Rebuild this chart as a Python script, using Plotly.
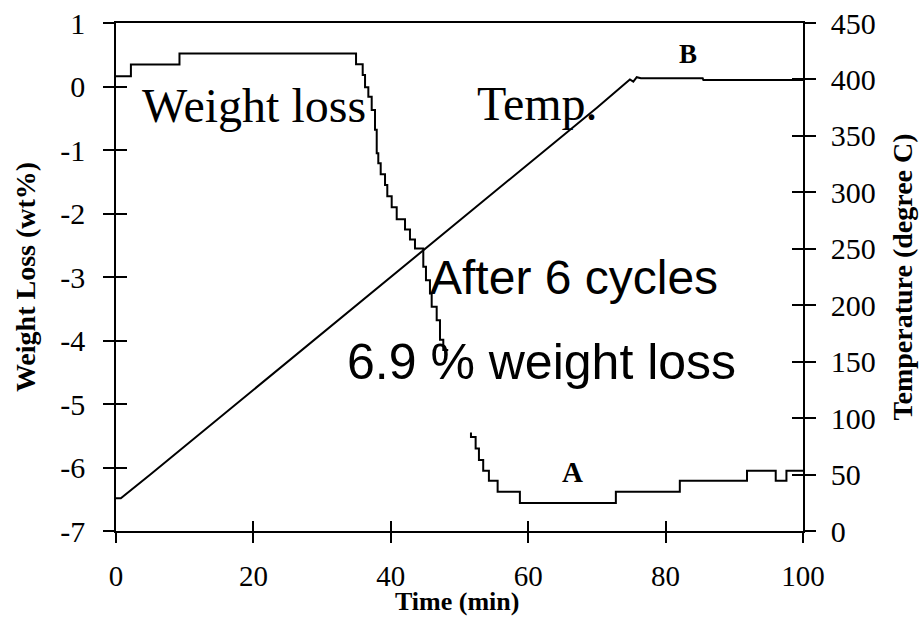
import plotly.graph_objects as go

# ---- data ----
weight_time = [0, 2.17, 9.24, 34.94, 35.91, 36.25, 36.73, 37.22, 37.70, 37.95, 38.18,
               38.53, 39.16, 39.49, 40.13, 40.86, 42.07, 42.79, 43.52, 44.73, 45.12,
               45.70, 45.95, 46.68, 47.16, 47.64, 48.36, None,
               51.67, 51.67, 52.35, 52.83, 53.45, 54.28, 55.55, 58.79, 72.76, 82.07,
               91.85, 96.03, 97.59, 100]
weight_loss = [0.16, 0.345, 0.52, 0.35, 0.18, -0.01, -0.16, -0.37, -0.68, -1.05, -1.21,
               -1.38, -1.55, -1.73, -1.90, -2.09, -2.25, -2.41, -2.55, -2.84, -3.05,
               -3.26, -3.47, -3.68, -3.99, -4.15, -4.15, None,
               -5.45, -5.52, -5.70, -5.88, -6.05, -6.21, -6.38, -6.56, -6.38, -6.21,
               -6.05, -6.21, -6.05, -6.05]

temp_time = [0, 0.7, 5, 10, 15, 20, 25, 30, 35, 40, 45, 50, 55, 60, 65, 70,
             74.8, 75.3, 75.8, 76.4, 85.4, 85.5, 100]
temp_deg = [29, 29, 50, 75, 100, 125, 150, 175, 200, 225, 250, 275, 300, 325, 350, 375,
            400, 398, 402, 401, 401, 399.5, 399.5]

x_ticks = [0, 20, 40, 60, 80, 100]
wl_ticks = [1, 0, -1, -2, -3, -4, -5, -6, -7]
wl_labels = ["1", "0", "-1", "-2", "-3", "-4", "-5", "-6", "-7"]
t_ticks = [0, 50, 100, 150, 200, 250, 300, 350, 400, 450]

SERIF = "Liberation Serif, Times New Roman, serif"
SANS = "Liberation Sans, Arial, sans-serif"
tickfont = dict(family=SERIF, size=30, color="black")
xtickfont = dict(family=SERIF, size=29, color="black")
titlefont = dict(family=SERIF, size=28, color="black", weight="bold")

fig = go.Figure()
fig.add_trace(go.Scatter(x=weight_time, y=weight_loss, mode="lines",
                         line=dict(color="black", width=2, shape="hv"),
                         connectgaps=False, showlegend=False, xaxis="x", yaxis="y"))
fig.add_trace(go.Scatter(x=temp_time, y=temp_deg, mode="lines",
                         line=dict(color="black", width=2),
                         showlegend=False, xaxis="x", yaxis="y2"))
# empty traces that carry the inner half of the crossing ticks
fig.add_trace(go.Scatter(x=[], y=[], showlegend=False, xaxis="x2", yaxis="y"))
fig.add_trace(go.Scatter(x=[], y=[], showlegend=False, xaxis="x", yaxis="y3"))
fig.add_trace(go.Scatter(x=[], y=[], showlegend=False, xaxis="x", yaxis="y4"))

common = dict(showgrid=False, zeroline=False, automargin=False)
fig.update_layout(
    width=924, height=620,
    margin=dict(l=116, r=121, t=23, b=89, autoexpand=False),
    paper_bgcolor="white", plot_bgcolor="white",
    xaxis=dict(range=[0, 100], tickvals=x_ticks, ticks="outside", ticklen=10,
               tickwidth=1.5, tickcolor="black", showline=True, linecolor="black",
               linewidth=1.5, mirror=True, tickfont=xtickfont, ticklabelstandoff=8,
               **common),
    xaxis2=dict(range=[0, 100], overlaying="x", anchor="y", side="bottom",
                tickvals=x_ticks, ticks="inside", ticklen=10, tickwidth=1.5,
                tickcolor="black", showticklabels=False, showline=False, **common),
    yaxis=dict(range=[-7, 1], tickvals=wl_ticks, ticktext=wl_labels, ticks="outside",
               ticklen=11, tickwidth=1.5, tickcolor="black", showline=True,
               linecolor="black", linewidth=1.5, tickfont=tickfont, ticklabelstandoff=12,
               title=dict(text="Weight Loss (wt%)", font=titlefont, standoff=16), **common),
    yaxis2=dict(range=[0, 450], overlaying="y", side="right", anchor="x",
                tickvals=t_ticks, ticks="outside", ticklen=11, tickwidth=1.5,
                tickcolor="black", showline=True, linecolor="black", linewidth=1.5,
                tickfont=tickfont, ticklabelstandoff=9,
                title=dict(text="Temperature (degree C)", font=titlefont, standoff=18),
                **common),
    yaxis3=dict(range=[-7, 1], overlaying="y", side="left", anchor="x",
                tickvals=wl_ticks, ticks="inside", ticklen=11, tickwidth=1.5,
                tickcolor="black", showticklabels=False, showline=False, **common),
    yaxis4=dict(range=[0, 450], overlaying="y", side="right", anchor="x",
                tickvals=t_ticks, ticks="inside", ticklen=11, tickwidth=1.5,
                tickcolor="black", showticklabels=False, showline=False, **common),
)

# x-axis title placed as a paper annotation just under the tick labels
fig.add_annotation(text="Time (min)", x=0.497, y=-0.171, xref="paper", yref="paper",
                   showarrow=False, font=dict(family=SERIF, size=26, color="black",
                                              weight="bold"),
                   xanchor="center", yanchor="bottom")

labels = [
    ("Weight loss", 20.1, -0.3, dict(family=SERIF, size=48, color="black")),
    ("Temp.", 61.4, -0.27, dict(family=SERIF, size=48, color="black")),
    ("After 6 cycles", 66.7, -3.0, dict(family=SANS, size=48, color="black")),
    ("6.9 % weight loss", 62.0, -4.34, dict(family=SANS, size=50, color="black")),
    ("A", 66.5, -6.07, dict(family=SERIF, size=29, color="black", weight="bold")),
    ("B", 83.2, 0.51, dict(family=SERIF, size=27, color="black", weight="bold")),
]
for text, x, y, font in labels:
    fig.add_annotation(text=text, x=x, y=y, xref="x", yref="y", showarrow=False,
                       font=font, xanchor="center", yanchor="middle")

fig.write_html("out.html")
